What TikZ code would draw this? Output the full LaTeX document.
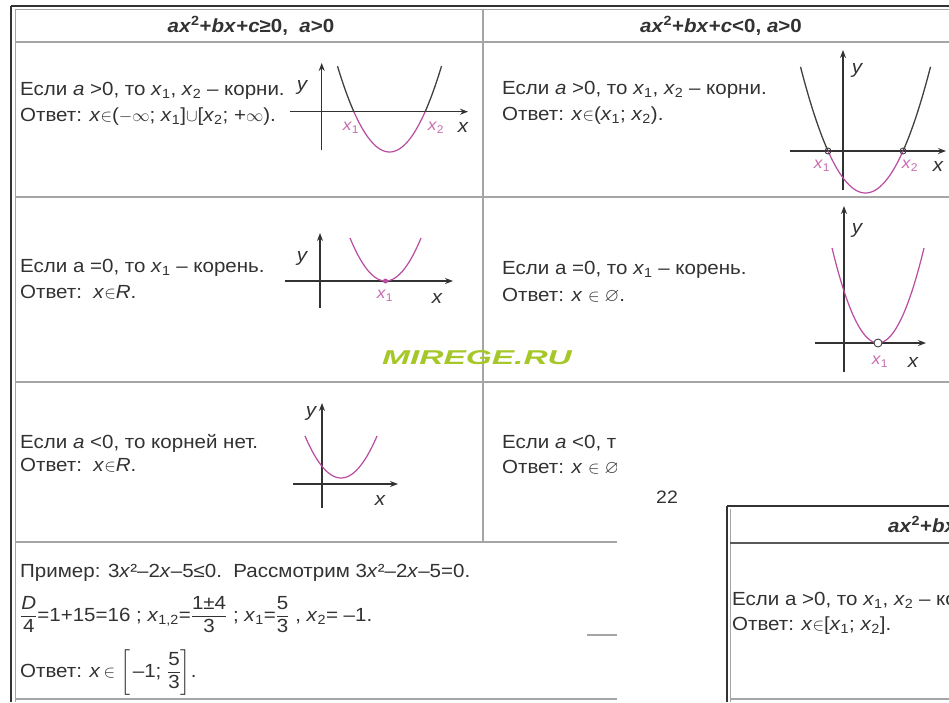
\documentclass[tikz,border=0pt]{standalone}
\usepackage{amsmath, amssymb}
\usepackage{fontspec}
\setmainfont[FakeStretch=1.08]{Liberation Sans}
\usetikzlibrary{arrows.meta}
\definecolor{gridGray}{RGB}{165,165,165}
\definecolor{curvePink}{RGB}{185,75,160}
\definecolor{labelPink}{RGB}{200,110,175}
\definecolor{inkGray}{RGB}{50,50,50}
\definecolor{markGreen}{RGB}{165,200,40}
\newcommand{\xsub}[1]{\textit{x}\textsubscript{#1}}

\begin{document}
\begin{tikzpicture}[x=1pt, y=-1pt,
    tabline/.style={gridGray, line width=1.6pt},
    frameline/.style={black!80, line width=2pt},
    axisline/.style={inkGray, line width=1.2pt, -{Stealth[length=8pt,width=6pt]}},
    curve/.style={black!75, line width=1.3pt},
    pinkcurve/.style={curvePink, line width=1.2pt},
    txt/.style={inkGray, anchor=base west, inner sep=0pt, font=\fontsize{19}{23}\selectfont},
    headtxt/.style={inkGray, anchor=base, inner sep=0pt, font=\fontsize{19}{23}\selectfont\bfseries},
    axlbl/.style={inkGray, inner sep=0pt, font=\fontsize{19}{23}\selectfont\itshape},
    rootlbl/.style={labelPink, inner sep=0pt, font=\fontsize{16}{19}\selectfont}]
  \fill[white] (0,0) rectangle (949,702);
  \useasboundingbox (0,0) rectangle (949,702);

  % table frame and rules
  \draw[frameline] (11,6) -- (949,6);
  \draw[frameline] (11,6) -- (11,702);
  \draw[tabline, line width=1pt] (15,9) -- (949,9);
  \draw[tabline, line width=1pt] (15,9) -- (15,702);
  \draw[tabline] (15,42) -- (949,42);
  \draw[tabline] (15,197) -- (949,197);
  \draw[tabline] (15,382) -- (949,382);
  \draw[tabline] (15,542) -- (949,542);
  \draw[tabline] (15,699) -- (949,699);
  \draw[tabline] (483,9) -- (483,542);

  % headers
  \node[headtxt] (headL) at (251,32) {\textit{ax}\textsuperscript{2}+\textit{bx}+\textit{c}≥0,\ \ \textit{a}>0};
  \node[headtxt] (headR) at (721,32) {\textit{ax}\textsuperscript{2}+\textit{bx}+\textit{c}<0, \textit{a}>0};

  % row 1
  \node[txt] (r1l1) at (20,95) {Если \textit{a} >0, то \xsub{1}, \xsub{2} – корни.};
  \node[txt] (r1l2) at (20,121) {Ответ: \textit{x}$\in$($-\infty$; \xsub{1}]$\cup$[\xsub{2}; +$\infty$).};
  \node[txt] (r1r1) at (502,94) {Если \textit{a} >0, то \xsub{1}, \xsub{2} – корни.};
  \node[txt] (r1r2) at (502,120) {Ответ: \textit{x}$\in$(\xsub{1}; \xsub{2}).};

  \draw[axisline] (290,111.7) -- (468,111.7);
  \draw[axisline] (321.7,150) -- (321.7,63);
  \draw[curve] plot[domain=337.5:354, samples=20] (\x,{152-40*((\x-389.5)/35.5)^2});
  \draw[pinkcurve] plot[domain=354:425, samples=40] (\x,{152-40*((\x-389.5)/35.5)^2});
  \draw[curve] plot[domain=425:441.5, samples=20] (\x,{152-40*((\x-389.5)/35.5)^2});
  \node[axlbl] (g1y) at (302,87) {y};
  \node[rootlbl] (g1a) at (351,128) {\xsub{1}};
  \node[rootlbl] (g1b) at (436,128) {\xsub{2}};
  \node[axlbl] (g1x) at (463,127) {x};

  \draw[axisline] (790,151) -- (946,151);
  \draw[axisline] (843,190) -- (843,50);
  \draw[curve] plot[domain=800.5:828, samples=20] (\x,{193-42*((\x-865.5)/37.5)^2});
  \draw[pinkcurve] plot[domain=828:903, samples=40] (\x,{193-42*((\x-865.5)/37.5)^2});
  \draw[curve] plot[domain=903:930.5, samples=20] (\x,{193-42*((\x-865.5)/37.5)^2});
  \draw[curve, line width=0.9pt] (828,151) circle (3);
  \draw[curve, line width=0.9pt] (903,151) circle (3);
  \node[axlbl] (g2y) at (857,70) {y};
  \node[rootlbl] (g2a) at (822,166) {\xsub{1}};
  \node[rootlbl] (g2b) at (910,166) {\xsub{2}};
  \node[axlbl] (g2x) at (938,166) {x};

  % row 2
  \node[txt] (r2l1) at (20,272) {Если a =0, то \xsub{1} – корень.};
  \node[txt] (r2l2) at (20,298) {Ответ:\ \ \textit{x}$\in$\textit{R}.};
  \node[txt] (r2r1) at (502,274) {Если a =0, то \xsub{1} – корень.};
  \node[txt] (r2r2) at (502,301) {Ответ: \textit{x} $\in\varnothing$.};

  \draw[axisline] (285,281) -- (453,281);
  \draw[axisline] (320,308) -- (320,233);
  \draw[pinkcurve] plot[domain=350:421, samples=40] (\x,{281-43*((\x-385.5)/35.5)^2});
  \fill[curvePink] (385.5,281) circle (2.5);
  \node[axlbl] (g3y) at (302,258) {y};
  \node[rootlbl] (g3a) at (385,296) {\xsub{1}};
  \node[axlbl] (g3x) at (437,298) {x};

  \draw[axisline] (815,343) -- (926,343);
  \draw[axisline] (844,372) -- (844,206);
  \draw[pinkcurve] plot[domain=832:924, samples=40] (\x,{343-95*((\x-878)/46)^2});
  \draw[curve, line width=0.9pt, fill=white] (878,343) circle (4);
  \node[axlbl] (g4y) at (857,230) {y};
  \node[rootlbl] (g4a) at (880,362) {\xsub{1}};
  \node[axlbl] (g4x) at (913,362) {x};

  % row 3
  \node[txt] (r3l1) at (20,448) {Если \textit{a} <0, то корней нет.};
  \node[txt] (r3l2) at (20,471) {Ответ:\ \ \textit{x}$\in$\textit{R}.};
  \node[txt] (r3r1) at (502,448) {Если \textit{a} <0, т};
  \node[txt] (r3r2) at (502,473) {Ответ: \textit{x} $\in\varnothing$};

  \draw[axisline] (293,484) -- (398,484);
  \draw[axisline] (322,508) -- (322,403);
  \draw[pinkcurve] plot[domain=305:377, samples=40] (\x,{478-42*((\x-341)/36)^2});
  \node[axlbl] (g5y) at (311,413) {y};
  \node[axlbl] (g5x) at (380,500) {x};

  % row 4
  \node[txt] (r4l1) at (20,577) {Пример: 3\textit{x}²–2\textit{x}–5≤0.\ \ Рассмотрим 3\textit{x}²–2\textit{x}–5=0.};
  \node[txt] (r4l2) at (20,621) {$\dfrac{\text{\textit{D}}}{\text{4}}$=1+15=16 ; \xsub{1,2}=$\dfrac{\text{1±4}}{\text{3}}$ ; \xsub{1}=$\dfrac{\text{5}}{\text{3}}$ , \xsub{2}= –1.};
  \node[txt] (r4l3) at (20,677) {Ответ: \textit{x}\,$\in\left[\,\text{–1; }\dfrac{\text{5}}{\text{3}}\right]$.};

  % watermark
  \node[markGreen, inner sep=0pt] (mark) at (477,358) {\scalebox{1.55}[1]{\fontsize{20}{20}\selectfont\bfseries\itshape MIREGE.RU}};

  % pasted page over the right part
  \fill[white] (617,418) rectangle (949,702);
  \draw[gridGray, line width=1.5pt] (587,635) -- (617,635);
  \node[inkGray, inner sep=0pt, font=\fontsize{18}{20}\selectfont] (page) at (667,497) {22};

  \draw[frameline] (727,506) -- (949,506);
  \draw[frameline] (727,506) -- (727,702);
  \draw[tabline, line width=1pt] (730.5,509) -- (730.5,702);
  \draw[black!65, line width=1.5pt] (730,543) -- (949,543);
  \draw[tabline] (730,699) -- (949,699);
  \node[headtxt] (head2) at (888,532) [anchor=base west] {\textit{ax}\textsuperscript{2}+\textit{bx}};
  \node[txt] (b1) at (732,605) {Если a >0, то \xsub{1}, \xsub{2} – ко};
  \node[txt] (b2) at (732,630) {Ответ: \textit{x}$\in$[\xsub{1}; \xsub{2}].};
\end{tikzpicture}
\end{document}
